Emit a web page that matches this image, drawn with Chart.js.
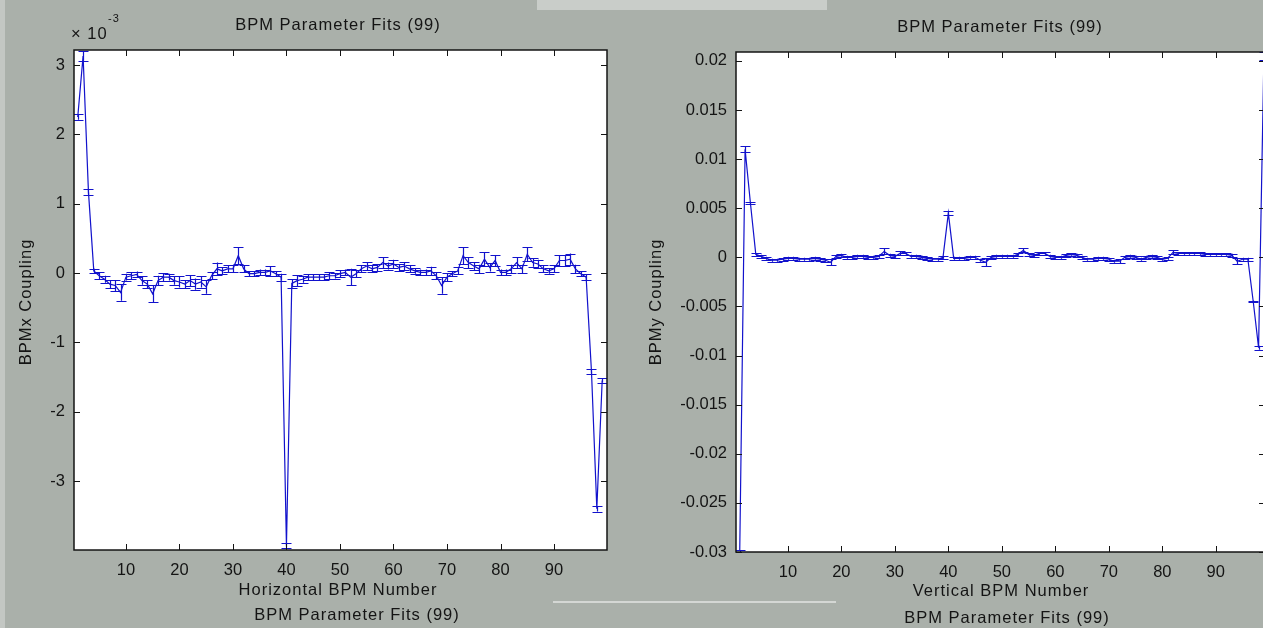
<!DOCTYPE html>
<html>
<head>
<meta charset="utf-8">
<title>BPM Parameter Fits</title>
<script src="https://cdn.jsdelivr.net/npm/chart.js@4.4.0/dist/chart.umd.min.js"></script>
<style>
  html, body { margin: 0; padding: 0; width: 1263px; height: 628px; overflow: hidden; background: #aab0aa; }
  canvas { position: absolute; top: 0; }
  #bpmx { left: 0; }
  #bpmy { left: 640px; }
  .edge { position: absolute; }
</style>
</head>
<body>
<div class="edge" style="left:0;top:0;width:5px;height:628px;background:#c3c7c3"></div>
<div class="edge" style="left:537px;top:0;width:290px;height:10px;background:#c9cdc9"></div>
<div class="edge" style="left:553px;top:601px;width:283px;height:2px;background:#d4d7d4"></div>
<canvas id="bpmx" width="640" height="628"></canvas>
<canvas id="bpmy" width="640" height="628"></canvas>
<script>
// BPM index along the ring
var bpmNumber = Array.from({ length: 99 }, function (_, i) { return i + 1; });

// horizontal coupling, in units of 1e-3
var bpmxCoupling = [
  2.25, 3.13, 1.17, 0.03, -0.04, -0.09, -0.16, -0.18, -0.28, -0.06,
  -0.04, -0.02, -0.11, -0.16, -0.30, -0.11, -0.06, -0.06, -0.11, -0.13,
  -0.16, -0.11, -0.16, -0.13, -0.20, -0.04, 0.06, 0.03, 0.06, 0.06,
  0.25, 0.06, -0.01, -0.01, 0.01, 0.01, 0.03, -0.01, -0.06, -3.93,
  -0.15, -0.11, -0.09, -0.06, -0.06, -0.06, -0.06, -0.04, -0.04, -0.01,
  0.01, -0.06, -0.01, 0.06, 0.10, 0.06, 0.08, 0.15, 0.10, 0.13,
  0.08, 0.10, 0.06, 0.03, 0.01, 0.01, 0.03, -0.04, -0.18, -0.06,
  -0.01, 0.03, 0.25, 0.15, 0.10, 0.06, 0.20, 0.08, 0.18, 0.01,
  0.01, 0.06, 0.15, 0.06, 0.27, 0.15, 0.13, 0.06, 0.03, 0.06,
  0.18, 0.18, 0.20, 0.06, -0.01, -0.06, -1.42, -3.40, -1.55
];
var bpmxError = [
  0.04, 0.07, 0.04, 0.03, 0.05, 0.05, 0.06, 0.08, 0.12, 0.05,
  0.05, 0.04, 0.06, 0.06, 0.12, 0.07, 0.06, 0.05, 0.06, 0.08,
  0.06, 0.08, 0.08, 0.08, 0.10, 0.05, 0.09, 0.05, 0.05, 0.05,
  0.12, 0.05, 0.04, 0.04, 0.04, 0.04, 0.07, 0.04, 0.05, 0.03,
  0.06, 0.08, 0.05, 0.04, 0.04, 0.04, 0.04, 0.05, 0.04, 0.05,
  0.04, 0.12, 0.05, 0.05, 0.06, 0.05, 0.05, 0.08, 0.05, 0.06,
  0.05, 0.06, 0.05, 0.04, 0.04, 0.04, 0.06, 0.05, 0.12, 0.06,
  0.04, 0.05, 0.12, 0.08, 0.06, 0.06, 0.10, 0.06, 0.08, 0.04,
  0.04, 0.06, 0.08, 0.06, 0.10, 0.06, 0.06, 0.05, 0.04, 0.05,
  0.08, 0.08, 0.08, 0.06, 0.04, 0.04, 0.03, 0.04, 0.03
];

// vertical coupling
var bpmyCoupling = [
  -0.0299, 0.0110, 0.0055, 0.0003, 0.0001, -0.0001, -0.0003, -0.0003, -0.0002, -0.0001,
  -0.0001, -0.0002, -0.0002, -0.0002, -0.0001, -0.0002, -0.0003, -0.0005, 0.0001, 0.0002,
  0.0000, 0.0000, 0.0001, 0.0001, 0.0000, 0.0000, 0.0001, 0.0006, 0.0002, 0.0001,
  0.0004, 0.0004, 0.0001, 0.0001, 0.0000, -0.0001, -0.0002, -0.0002, 0.0000, 0.0045,
  -0.0001, -0.0001, -0.0001, 0.0000, 0.0000, -0.0003, -0.0005, 0.0000, 0.0001, 0.0001,
  0.0001, 0.0001, 0.0003, 0.0007, 0.0003, 0.0002, 0.0004, 0.0004, 0.0001, 0.0000,
  0.0000, 0.0002, 0.0003, 0.0002, 0.0000, -0.0002, -0.0002, -0.0001, -0.0001, -0.0002,
  -0.0004, -0.0004, 0.0000, 0.0001, 0.0000, -0.0002, 0.0000, 0.0001, 0.0000, -0.0002,
  -0.0001, 0.0005, 0.0004, 0.0004, 0.0004, 0.0004, 0.0004, 0.0003, 0.0003, 0.0003,
  0.0003, 0.0003, 0.0002, -0.0004, -0.0002, -0.0002, -0.0045, -0.0092, 0.0205
];
var bpmyError = [
  0.0001, 0.0003, 0.0001, 0.00015, 0.00015, 0.00015, 0.00015, 0.00015, 0.00015, 0.00015,
  0.00015, 0.00015, 0.00015, 0.00015, 0.00015, 0.00015, 0.00015, 0.0003, 0.00015, 0.00015,
  0.00015, 0.00015, 0.00015, 0.00015, 0.00015, 0.00015, 0.00015, 0.0003, 0.00015, 0.00015,
  0.0002, 0.00015, 0.00015, 0.00015, 0.00015, 0.00015, 0.00015, 0.00015, 0.00015, 0.0002,
  0.00015, 0.00015, 0.00015, 0.00015, 0.00015, 0.00015, 0.0004, 0.00015, 0.00015, 0.00015,
  0.00015, 0.00015, 0.00015, 0.0002, 0.00015, 0.00015, 0.00015, 0.00015, 0.00015, 0.00015,
  0.00015, 0.00015, 0.00015, 0.00015, 0.00015, 0.00015, 0.00015, 0.00015, 0.00015, 0.00015,
  0.00015, 0.0002, 0.00015, 0.00015, 0.00015, 0.00015, 0.00015, 0.00015, 0.00015, 0.00015,
  0.00015, 0.0002, 0.00015, 0.00015, 0.00015, 0.00015, 0.00015, 0.00015, 0.00015, 0.00015,
  0.00015, 0.00015, 0.00015, 0.0003, 0.00015, 0.00015, 0.0001, 0.0002, 0.0004
];

var bpmTicks = [10, 20, 30, 40, 50, 60, 70, 80, 90];
var bpmxTicks = [-3, -2, -1, 0, 1, 2, 3];
var bpmyTicks = [-0.03, -0.025, -0.02, -0.015, -0.01, -0.005, 0, 0.005, 0.01, 0.015, 0.02];
var bpmyTickLabels = ["-0.03", "-0.025", "-0.02", "-0.015", "-0.01", "-0.005", "0", "0.005", "0.01", "0.015", "0.02"];

var blue = "#1212cc";
var ink = "#141414";
var fontFamily = '"Liberation Sans", Arial, sans-serif';

// white axes box behind the data
var axesBackground = {
  id: "axesBackground",
  beforeDraw: function (chart) {
    var a = chart.chartArea, ctx = chart.ctx;
    ctx.save();
    ctx.fillStyle = "#ffffff";
    ctx.fillRect(a.left, a.top, a.right - a.left, a.bottom - a.top);
    ctx.restore();
  }
};

// vertical error bars with caps
var errorBars = {
  id: "errorBars",
  afterDatasetsDraw: function (chart, args, opts) {
    var a = chart.chartArea, ctx = chart.ctx;
    var xs = chart.scales.x, ys = chart.scales.y;
    ctx.save();
    ctx.beginPath();
    ctx.rect(a.left, a.top, a.right - a.left, a.bottom - a.top);
    ctx.clip();
    ctx.strokeStyle = blue;
    ctx.lineWidth = 1.2;
    ctx.beginPath();
    opts.values.forEach(function (v, i) {
      var px = Math.round(xs.getPixelForValue(bpmNumber[i])) + 0.5;
      var lo = ys.getPixelForValue(v - opts.errors[i]);
      var hi = ys.getPixelForValue(v + opts.errors[i]);
      ctx.moveTo(px, lo);
      ctx.lineTo(px, hi);
      ctx.moveTo(px - opts.cap, Math.round(lo) + 0.5);
      ctx.lineTo(px + opts.cap, Math.round(lo) + 0.5);
      ctx.moveTo(px - opts.cap, Math.round(hi) + 0.5);
      ctx.lineTo(px + opts.cap, Math.round(hi) + 0.5);
    });
    ctx.stroke();
    ctx.restore();
  }
};

// box outline with inward tick marks on all four sides
var axesBox = {
  id: "axesBox",
  afterDatasetsDraw: function (chart) {
    var a = chart.chartArea, ctx = chart.ctx;
    var xs = chart.scales.x, ys = chart.scales.y;
    var len = 6;
    ctx.save();
    ctx.strokeStyle = ink;
    ctx.lineWidth = 1;
    ctx.beginPath();
    xs.ticks.forEach(function (t) {
      var px = Math.round(xs.getPixelForValue(t.value)) + 0.5;
      ctx.moveTo(px, a.bottom);
      ctx.lineTo(px, a.bottom - len);
      ctx.moveTo(px, a.top);
      ctx.lineTo(px, a.top + len);
    });
    ys.ticks.forEach(function (t) {
      var py = Math.round(ys.getPixelForValue(t.value)) + 0.5;
      ctx.moveTo(a.left, py);
      ctx.lineTo(a.left + len, py);
      ctx.moveTo(a.right, py);
      ctx.lineTo(a.right - len, py);
    });
    ctx.stroke();
    ctx.lineWidth = 1.5;
    ctx.strokeRect(a.left, a.top, a.right - a.left, a.bottom - a.top);
    ctx.restore();
  }
};

// titles and axis labels
var figureText = {
  id: "figureText",
  afterDraw: function (chart, args, opts) {
    var ctx = chart.ctx;
    ctx.save();
    ctx.fillStyle = ink;
    ctx.font = "16.5px " + fontFamily;
    ctx.letterSpacing = "1px";
    ctx.textAlign = "center";
    ctx.textBaseline = "middle";
    ctx.fillText(opts.title, opts.titleAt[0], opts.titleAt[1]);
    ctx.fillText(opts.xLabel, opts.xLabelAt[0], opts.xLabelAt[1]);
    ctx.fillText(opts.title, opts.footAt[0], opts.footAt[1]);
    ctx.save();
    ctx.translate(opts.yLabelAt[0], opts.yLabelAt[1]);
    ctx.rotate(-Math.PI / 2);
    ctx.fillText(opts.yLabel, 0, 0);
    ctx.restore();
    if (opts.exponent) {
      ctx.textAlign = "left";
      ctx.fillText("\u00d7 10", opts.exponentAt[0], opts.exponentAt[1]);
      ctx.font = "11px " + fontFamily;
      ctx.fillText(opts.exponent, opts.exponentAt[0] + 37, opts.exponentAt[1] - 15);
    }
    ctx.restore();
  }
};

function makeChart(canvasId, values, errors, cfg) {
  var points = values.map(function (v, i) { return { x: bpmNumber[i], y: v }; });
  var tickFont = { family: fontFamily, size: 16.5 };
  return new Chart(document.getElementById(canvasId), {
    type: "scatter",
    data: {
      datasets: [{
        data: points,
        showLine: true,
        borderColor: blue,
        borderWidth: 1.2,
        pointRadius: 0,
        tension: 0
      }]
    },
    options: {
      responsive: false,
      animation: false,
      events: [],
      layout: { padding: { top: cfg.top, right: cfg.right, left: 0, bottom: 0 } },
      plugins: {
        legend: { display: false },
        tooltip: { enabled: false },
        errorBars: { values: values, errors: errors, cap: 5 },
        figureText: cfg.text
      },
      scales: {
        x: {
          type: "linear",
          min: cfg.xMin,
          max: cfg.xMax,
          grid: { display: false, drawTicks: false },
          border: { display: false },
          afterBuildTicks: function (s) { s.ticks = bpmTicks.map(function (v) { return { value: v }; }); },
          afterFit: function (s) { s.height = cfg.xHeight; },
          ticks: { padding: 11, color: ink, font: tickFont, maxRotation: 0, autoSkip: false }
        },
        y: {
          type: "linear",
          min: cfg.yMin,
          max: cfg.yMax,
          grid: { display: false, drawTicks: false },
          border: { display: false },
          afterBuildTicks: function (s) { s.ticks = cfg.yTicks.map(function (v) { return { value: v }; }); },
          afterFit: function (s) { s.width = cfg.yWidth; },
          ticks: { padding: 9, color: ink, font: tickFont, autoSkip: false, callback: cfg.yLabel }
        }
      }
    },
    plugins: [axesBackground, errorBars, axesBox, figureText]
  });
}

makeChart("bpmx", bpmxCoupling, bpmxError, {
  top: 50, right: 33, xHeight: 78, yWidth: 74,
  xMin: 0.3, xMax: 99.9, yMin: -3.995, yMax: 3.216,
  yTicks: bpmxTicks,
  yLabel: function (v) { return String(v); },
  text: {
    title: "BPM Parameter Fits (99)",
    xLabel: "Horizontal BPM Number",
    yLabel: "BPMx Coupling",
    titleAt: [338, 25], xLabelAt: [338, 590], footAt: [357, 615], yLabelAt: [26, 302],
    exponent: "-3", exponentAt: [71, 34]
  }
});

makeChart("bpmy", bpmyCoupling, bpmyError, {
  top: 52, right: 15, xHeight: 76, yWidth: 96,
  xMin: 0.3, xMax: 99.2, yMin: -0.03, yMax: 0.0209,
  yTicks: bpmyTicks,
  yLabel: function (v, i) { return bpmyTickLabels[i]; },
  text: {
    title: "BPM Parameter Fits (99)",
    xLabel: "Vertical BPM Number",
    yLabel: "BPMy Coupling",
    titleAt: [360, 27], xLabelAt: [361, 591], footAt: [367, 618], yLabelAt: [16, 302]
  }
});
</script>
</body>
</html>
